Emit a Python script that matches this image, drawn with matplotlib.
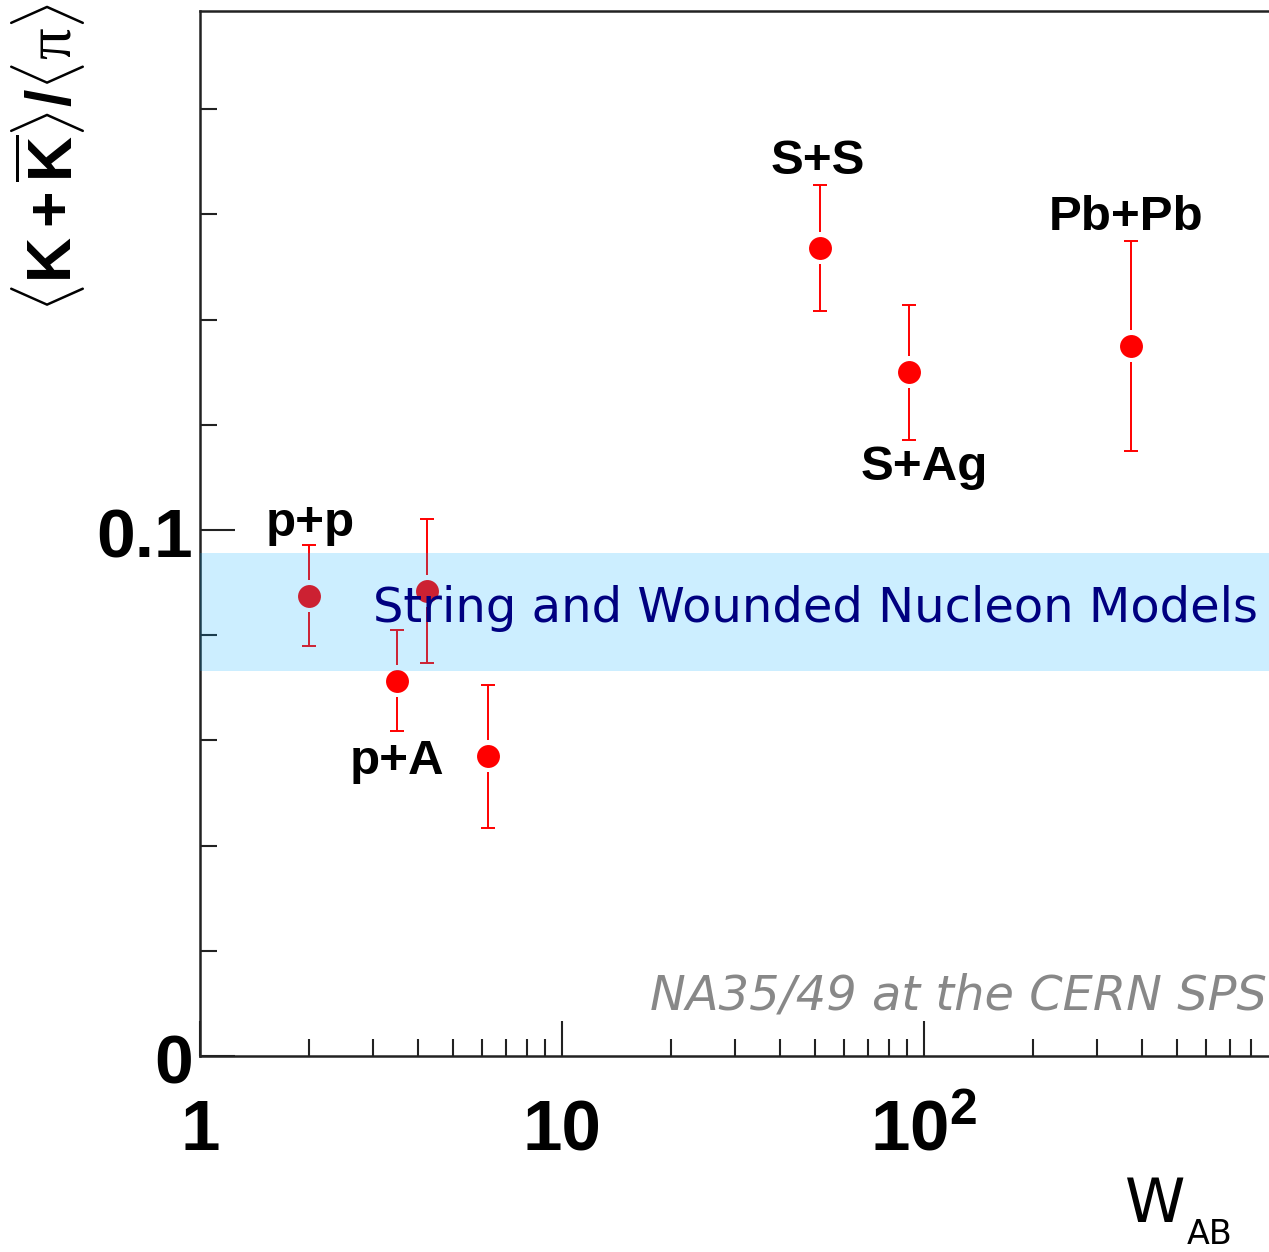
import matplotlib
matplotlib.use("Agg")
import matplotlib.pyplot as plt
import matplotlib.transforms as mtransforms
from matplotlib.ticker import FixedLocator, FixedFormatter, NullFormatter
import numpy as np

plt.rcParams['mathtext.fontset'] = 'custom'
plt.rcParams['mathtext.rm'] = 'Liberation Sans'
plt.rcParams['mathtext.bf'] = 'Liberation Sans:bold'
plt.rcParams['mathtext.it'] = 'Liberation Serif'

# data: W_AB, <K+Kbar>/<pi> and error
w_ab = [2.0, 3.5, 4.25, 6.25, 51.5, 91.0, 373.0]
ratio = [0.0875, 0.0713, 0.0884, 0.0570, 0.1536, 0.1300, 0.1350]
ratio_err = [0.0096, 0.0096, 0.0136, 0.0136, 0.0119, 0.0128, 0.0200]

# system labels and where they sit
systems = ["p+p", "p+A", "S+S", "S+Ag", "Pb+Pb"]
label_x = [2.01, 3.50, 50.8, 100.0, 361.0]
label_y = [0.1013, 0.0559, 0.1700, 0.1118, 0.1595]

# model band
band_lo, band_hi = 0.0732, 0.0956
band_text = "String and Wounded Nucleon Models"

xtick_vals = [1, 10, 100]
xtick_labels = ["1", "10", r"$\mathbf{10^{2}}$"]
ytick_vals = [0.0, 0.1]
ytick_labels = ["0", "0.1"]

W, H = 1269, 1252
fig = plt.figure(figsize=(W / 100, H / 100), dpi=100)
ax = fig.add_axes([200 / W, (H - 1056) / H, 1 - 200 / W, (1056 - 11) / H])

decade = 362.0
ax.set_xscale('log')
ax.set_xlim(1, 10 ** ((W - 200) / decade))
ax.set_ylim(0, (1056 - 11) / 5260)

# error bars with a gap around the marker, like ROOT draws them
gap = 0.003
x = np.array(w_ab)
y = np.array(ratio)
e = np.array(ratio_err)
ax.vlines(x, y + gap, y + e, color='red', lw=1.4, zorder=2)
ax.vlines(x, y - e, y - gap, color='red', lw=1.4, zorder=2)
ax.plot(x, y + e, ls='none', marker='_', ms=10, mew=1.4, color='red', zorder=2)
ax.plot(x, y - e, ls='none', marker='_', ms=10, mew=1.4, color='red', zorder=2)
ax.plot(x, y, ls='none', marker='o', ms=16.5, color='red', mec='none', zorder=2)

# translucent band over the points
ax.axhspan(band_lo, band_hi, color='#00aaff', alpha=0.2, lw=0, zorder=3)
ax.text(3.0, 0.0826, band_text, color='#000080', fontsize=34.6,
        family='DejaVu Sans', va='baseline', ha='left', zorder=4)

for name, lx, ly in zip(systems, label_x, label_y):
    ax.text(lx, ly, name, fontsize=35.5, fontweight='bold', family='Liberation Sans',
            ha='center', va='center', zorder=5)

# ticks
ax.xaxis.set_major_locator(FixedLocator(xtick_vals))
ax.xaxis.set_major_formatter(FixedFormatter(xtick_labels))
minors = [m * 10 ** d for d in range(3) for m in range(2, 10)]
ax.xaxis.set_minor_locator(FixedLocator(minors))
ax.xaxis.set_minor_formatter(NullFormatter())
ax.yaxis.set_major_locator(FixedLocator(ytick_vals))
ax.yaxis.set_major_formatter(FixedFormatter(ytick_labels))
ax.yaxis.set_minor_locator(FixedLocator(np.arange(0.02, 0.2, 0.02)))

ax.tick_params(which='both', direction='in', color='#222222', width=1.5,
               top=False, right=False)
ax.tick_params(which='major', length=25)
ax.tick_params(which='minor', length=12.5)
ax.tick_params(axis='x', which='major', pad=31, labelsize=51)
ax.tick_params(axis='y', which='major', pad=5, labelsize=50)
for lab in ax.get_xticklabels() + ax.get_yticklabels():
    lab.set_fontweight('bold')
    lab.set_family('Liberation Sans')
dy = mtransforms.ScaledTranslation(0, -3 / 100, fig.dpi_scale_trans)
for lab in ax.get_yticklabels():
    lab.set_transform(lab.get_transform() + dy)

for s in ['left', 'bottom', 'top']:
    ax.spines[s].set_linewidth(1.8)
    ax.spines[s].set_color('#222222')
ax.spines['right'].set_visible(False)

# axis titles
fig.text(48 / W, 1 - 158 / H,
         r'$\langle\mathbf{K+\overline{K}}\rangle\mathbf{/}\langle\pi\rangle$',
         rotation=90, fontsize=45, ha='center', va='center')
fig.text(1125 / W, 1 - 1222 / H, "W", fontsize=44, family='DejaVu Sans',
         ha='left', va='baseline')
fig.text(1187 / W, 1 - 1244 / H, "AB", fontsize=24, family='DejaVu Sans',
         ha='left', va='baseline')

fig.text(1267 / W, 1 - 1010 / H, "NA35/49 at the CERN SPS", fontsize=34.5,
         style='italic', color='#888888', family='DejaVu Sans',
         ha='right', va='baseline')

fig.savefig("out.png", dpi=100)
